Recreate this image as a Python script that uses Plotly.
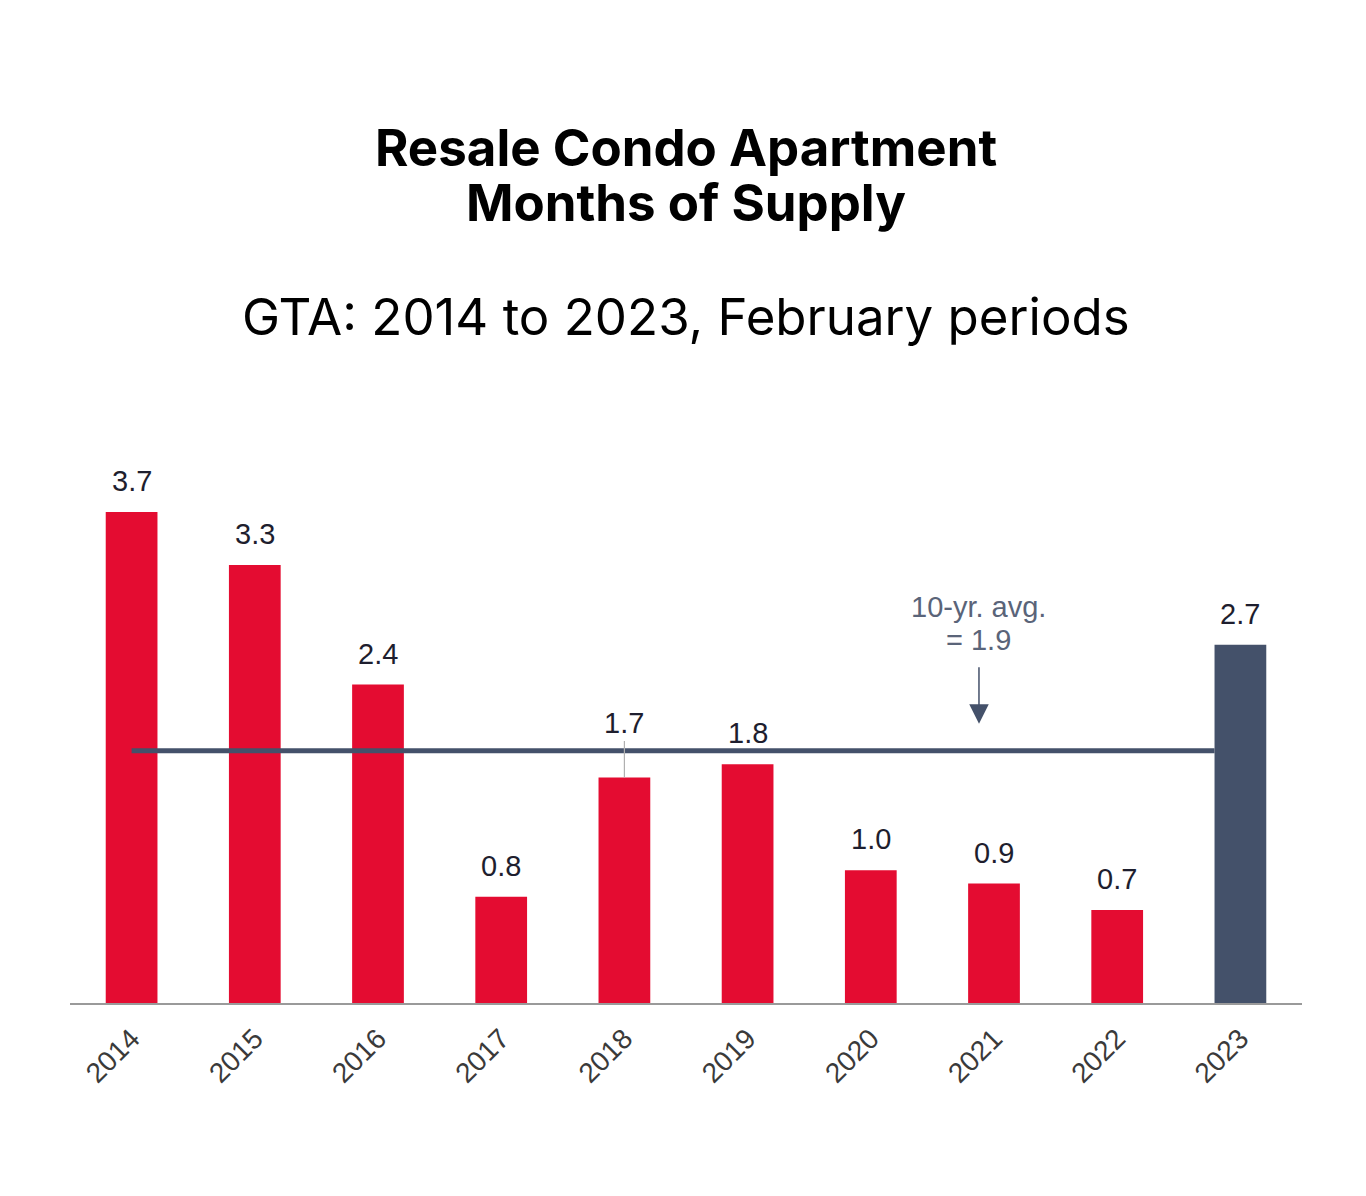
import plotly.graph_objects as go

years = ["2014", "2015", "2016", "2017", "2018", "2019", "2020", "2021", "2022", "2023"]
months_supply = [3.7, 3.3, 2.4, 0.8, 1.7, 1.8, 1.0, 0.9, 0.7, 2.7]
value_labels = ["3.7", "3.3", "2.4", "0.8", "1.7", "1.8", "1.0", "0.9", "0.7", "2.7"]
ten_year_avg = 1.9
avg_label_lines = ["10-yr. avg.", "= 1.9"]

RED = "#E40C31"
SLATE = "#44516A"
BAR_W = 0.42
LABEL_FONT = "Liberation Sans, Arial"

xs = list(range(len(years)))
colors = [RED] * (len(years) - 1) + [SLATE]

fig = go.Figure()
fig.add_trace(go.Bar(x=xs, y=months_supply, width=BAR_W, marker=dict(color=colors, line=dict(width=0)),
                     hoverinfo="skip"))

# 10-yr average line: from first bar center to left edge of last bar
fig.add_trace(go.Scatter(x=[xs[0], xs[-1] - BAR_W / 2], y=[ten_year_avg, ten_year_avg], mode="lines",
                         line=dict(color=SLATE, width=5), hoverinfo="skip"))

annotations = []
for i, (v, lab) in enumerate(zip(months_supply, value_labels)):
    if years[i] == "2018":
        annotations.append(dict(x=xs[i], y=v, text=lab, showarrow=True, arrowhead=0, arrowwidth=1.2,
                                arrowcolor="#B0B0B0", ax=0, ay=-54, standoff=0,
                                font=dict(family=LABEL_FONT, size=29, color="#1E1E2E")))
    else:
        annotations.append(dict(x=xs[i], y=v, text=lab, showarrow=False, yanchor="bottom", yshift=13,
                                font=dict(family=LABEL_FONT, size=29, color="#1E1E2E")))

# avg annotation text (two lines) + arrow
for line_text, shift in zip(avg_label_lines, [144, 111]):
    annotations.append(dict(x=6.878, y=ten_year_avg, text=line_text, showarrow=False,
                            yanchor="middle", yshift=shift,
                            font=dict(family=LABEL_FONT, size=29, color="#5A6479")))
annotations.append(dict(x=6.878, y=ten_year_avg, xref="x", yref="y", text="", showarrow=True,
                        arrowhead=2, arrowsize=2.6, arrowwidth=1.5, arrowcolor=SLATE,
                        ax=0, ay=-58, yshift=27, standoff=0))

# titles
annotations.append(dict(xref="paper", yref="paper", x=0.5, y=1.418, xanchor="center", yanchor="middle",
                        text="<b>Resale Condo Apartment</b>", showarrow=False,
                        font=dict(family="Inter", size=51, color="#000000")))
annotations.append(dict(xref="paper", yref="paper", x=0.5, y=1.3267, xanchor="center", yanchor="middle",
                        text="<b>Months of Supply</b>", showarrow=False,
                        font=dict(family="Inter", size=51, color="#000000")))
annotations.append(dict(xref="paper", yref="paper", x=0.5, y=1.1393, xanchor="center", yanchor="middle",
                        text="GTA: 2014 to 2023, February periods", showarrow=False,
                        font=dict(family="Inter", size=51, color="#000000")))

fig.update_layout(
    width=1366, height=1196,
    margin=dict(l=62, r=72, t=392, b=201),
    paper_bgcolor="white", plot_bgcolor="white",
    showlegend=False,
    annotations=annotations,
    xaxis=dict(range=[-0.5, len(years) - 0.5], tickvals=xs, ticktext=years, tickangle=-45,
               showgrid=False, zeroline=False, showline=True, linecolor="#9A9A9A", linewidth=2,
               ticks="", ticklabelstandoff=6,
               tickfont=dict(family=LABEL_FONT, size=28, color="#3A3A3A")),
    yaxis=dict(range=[0, 4.544], visible=False, showgrid=False, zeroline=False),
)

fig.write_html("out.html")
